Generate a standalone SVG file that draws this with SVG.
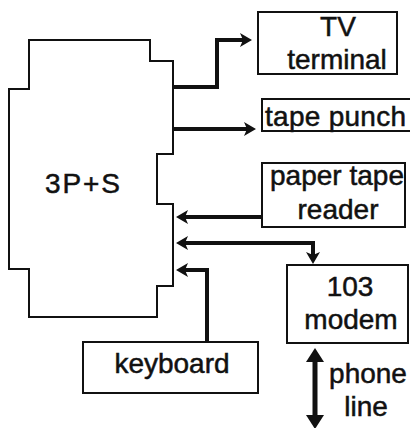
<svg xmlns="http://www.w3.org/2000/svg" width="410" height="428" viewBox="0 0 410 428">
<style>
.box{fill:#fff;stroke:#111;stroke-width:2}
.lbl{font-family:"Liberation Sans",Arial,sans-serif;font-size:28px;fill:#111;stroke:#111;stroke-width:0.5}
.wire{fill:none;stroke:#111;stroke-width:4;marker-end:url(#head)}
</style>
<defs>
<marker id="head" markerUnits="userSpaceOnUse" viewBox="0 -7 12 14" refX="4" refY="0" markerWidth="12" markerHeight="14" orient="auto-start-reverse">
<path d="M0,-7 L12,0 L0,7 L3,0 Z" fill="#111"/>
</marker>
<marker id="big" markerUnits="userSpaceOnUse" viewBox="0 -9 14 18" refX="4" refY="0" markerWidth="14" markerHeight="18" orient="auto-start-reverse">
<path d="M0,-9 L14,0 L0,9 Z" fill="#111"/>
</marker>
</defs>
<rect width="410" height="428" fill="#fff"/>
<g id="cpu">
<path class="box" d="M29,40 H150 V61 H173 V154 H157 V204 H173 V286 H157 V317 H29 V269 H9 V89 H29 Z"/>
<text class="lbl" x="45" y="193" textLength="75">3P+S</text>
</g>
<g id="tv">
<rect class="box" x="258" y="12" width="139" height="62"/>
<text class="lbl" x="338" y="36" text-anchor="middle">TV</text>
<text class="lbl" x="337" y="69" text-anchor="middle">terminal</text>
</g>
<g id="punch">
<rect class="box" x="262" y="99" width="150" height="32"/>
<text class="lbl" x="265" y="126" textLength="141">tape punch</text>
</g>
<g id="reader">
<rect class="box" x="262" y="163" width="143" height="64"/>
<text class="lbl" x="270" y="185" textLength="134">paper tape</text>
<text class="lbl" x="338" y="219" text-anchor="middle">reader</text>
</g>
<g id="modem">
<rect class="box" x="287" y="265" width="121" height="78"/>
<text class="lbl" x="350" y="296" text-anchor="middle">103</text>
<text class="lbl" x="351" y="329" text-anchor="middle">modem</text>
</g>
<g id="keyboard">
<rect class="box" x="83" y="342" width="175" height="51"/>
<text class="lbl" x="172" y="373" text-anchor="middle">keyboard</text>
</g>
<g id="phone">
<text class="lbl" x="368" y="383" text-anchor="middle">phone</text>
<text class="lbl" x="366" y="416" text-anchor="middle">line</text>
</g>
<g id="connectors">
<path class="wire" d="M173,87 H217 V40 H244"/>
<path class="wire" d="M173,129 H248"/>
<path class="wire" d="M262,217 H184"/>
<path class="wire" d="M184,243 H313 V256" marker-start="url(#head)"/>
<path class="wire" d="M207,342 V270 H184"/>
<path d="M315,358 V419" fill="none" stroke="#111" stroke-width="5" marker-start="url(#big)" marker-end="url(#big)"/>
</g>
</svg>
